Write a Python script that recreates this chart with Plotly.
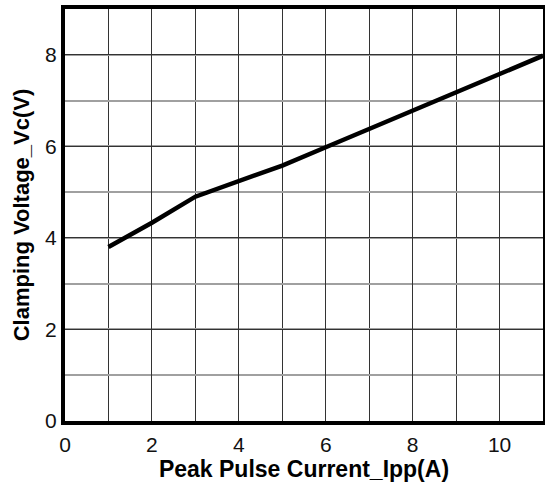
import plotly.graph_objects as go

ipp = [1, 2, 3, 4, 5, 6, 7, 8, 9, 10, 11]
vc = [3.8, 4.33, 4.9, 5.23, 5.58, 5.98, 6.38, 6.78, 7.18, 7.58, 7.98]

x_ticks = [0, 2, 4, 6, 8, 10]
y_ticks = [0, 2, 4, 6, 8]

fig = go.Figure()
fig.add_trace(go.Scatter(x=ipp, y=vc, mode="lines",
                         line=dict(color="black", width=4.5), showlegend=False))

font_family = "Liberation Sans, Arial, sans-serif"
fig.update_layout(
    width=545, height=484,
    margin=dict(l=65, r=2, t=9, b=63),
    paper_bgcolor="white", plot_bgcolor="white",
    font=dict(family=font_family, color="black"),
    xaxis=dict(
        range=[0, 11], tickvals=x_ticks, ticktext=[str(v) for v in x_ticks],
        showgrid=True, gridcolor="#333333", gridwidth=1,
        minor=dict(dtick=1, tick0=0, showgrid=True, gridcolor="#333333", gridwidth=1),
        showline=True, linecolor="black", linewidth=4, mirror=True,
        ticks="", tickfont=dict(size=21, color="#111111"),
        ticklabelstandoff=2,
        title=dict(text="<b>Peak Pulse Current_Ipp(A)</b>", font=dict(size=23), standoff=4),
        zeroline=False, automargin=False,
    ),
    yaxis=dict(
        range=[0, 9], tickvals=y_ticks, ticktext=[str(v) for v in y_ticks],
        showgrid=True, gridcolor="#333333", gridwidth=1,
        minor=dict(dtick=1, tick0=0, showgrid=True, gridcolor="#a0a0a0", gridwidth=1.5),
        showline=True, linecolor="black", linewidth=4, mirror=True,
        ticks="", tickfont=dict(size=21, color="#111111"),
        ticklabelstandoff=0,
        title=dict(text="<b>Clamping Voltage_Vc(V)</b>", font=dict(size=22), standoff=10),
        zeroline=False, automargin=False,
    ),
)
fig.write_html("out.html", config={"displayModeBar": False},
               post_script="document.body.style.margin='0';")
